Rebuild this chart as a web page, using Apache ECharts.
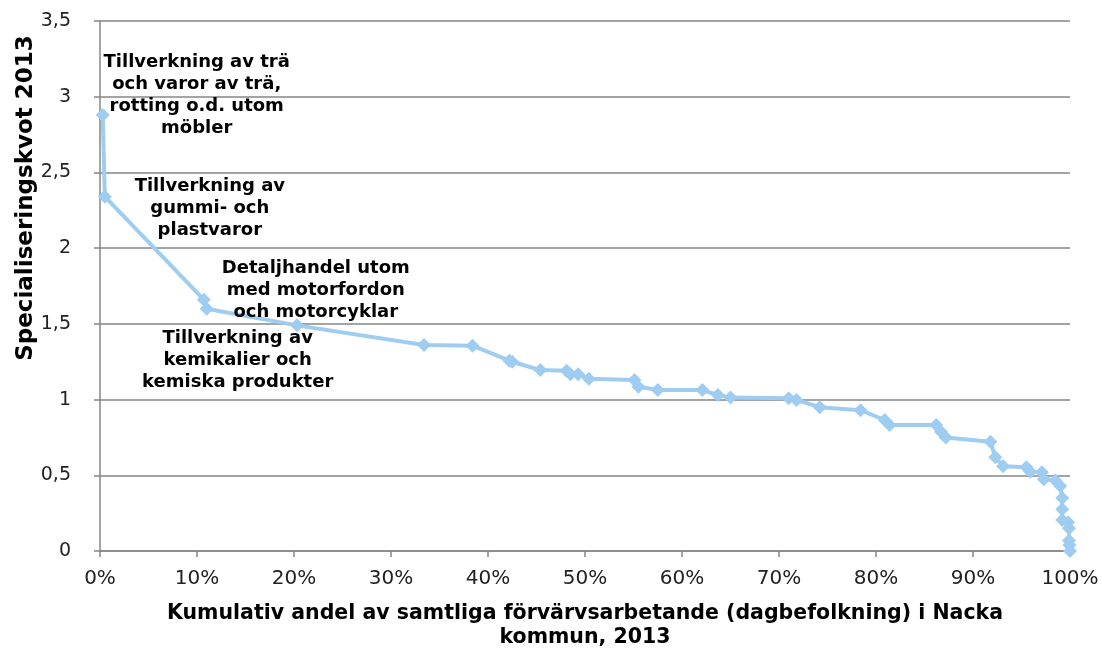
<!DOCTYPE html>
<html>
<head>
<meta charset="utf-8">
<script src="https://cdn.jsdelivr.net/npm/echarts@6/dist/echarts.min.js"></script>
<style>
  html, body { margin: 0; padding: 0; background: #fff; }
  #chart { width: 1102px; height: 650px; }
</style>
</head>
<body>
<div id="chart"></div>
<script>
// cumulative share of employed (%) and specialisation quotient
const cumShare = [0.28, 0.5, 10.7, 11.0, 20.3, 33.4, 38.4, 42.2, 42.5, 45.4, 48.1, 48.5, 49.3, 50.4,
  55.1, 55.5, 57.5, 62.1, 63.7, 65.0, 71.0, 71.8, 74.2, 78.4, 80.9, 81.4, 86.2, 86.7, 87.2,
  91.8, 92.3, 93.1, 95.5, 95.9, 97.1, 97.3, 98.5, 99.0, 99.2, 99.2, 99.2, 99.8, 99.9, 99.9, 99.95, 100];
const kvot = [2.88, 2.34, 1.66, 1.60, 1.49, 1.36, 1.356, 1.257, 1.25, 1.195, 1.19, 1.167, 1.167, 1.138,
  1.13, 1.085, 1.063, 1.063, 1.03, 1.013, 1.008, 0.997, 0.95, 0.93, 0.865, 0.832, 0.832, 0.788, 0.75,
  0.722, 0.619, 0.56, 0.553, 0.524, 0.52, 0.474, 0.465, 0.43, 0.35, 0.275, 0.205, 0.19, 0.15, 0.07, 0.04, 0.0];

// annotated branches: point index, text
const notes = [
  { i: 0, text: 'Tillverkning av trä\noch varor av trä,\nrotting o.d. utom\nmöbler', offset: [94, -20] },
  { i: 1, text: 'Tillverkning av\ngummi- och\nplastvaror', offset: [105, 12] },
  { i: 2, text: 'Detaljhandel utom\nmed motorfordon\noch motorcyklar', offset: [112, -9] },
  { i: 3, text: 'Tillverkning av\nkemikalier och\nkemiska produkter', offset: [31, 52] }
];

const font = '"DejaVu Sans", Verdana, sans-serif';
const axisGray = '#868686';

const data = cumShare.map((x, i) => {
  const item = { value: [x, kvot[i]] };
  const n = notes.find(d => d.i === i);
  if (n) {
    item.label = {
      show: true,
      position: 'inside',
      offset: n.offset,
      formatter: n.text,
      fontFamily: font,
      fontWeight: 'bold',
      fontSize: 18,
      lineHeight: 22,
      color: '#000',
      align: 'center',
      verticalAlign: 'middle'
    };
  }
  return item;
});

const chart = echarts.init(document.getElementById('chart'));
chart.setOption({
  animation: false,
  grid: { left: 100, right: 32, top: 21, bottom: 99, outerBoundsMode: 'none', containLabel: false },
  xAxis: {
    type: 'value',
    min: 0, max: 100, interval: 10,
    name: 'Kumulativ andel av samtliga förvärvsarbetande (dagbefolkning) i Nacka\nkommun, 2013',
    nameLocation: 'middle',
    nameGap: 51,
    nameMoveOverlap: false,
    nameTextStyle: { fontFamily: font, fontWeight: 'bold', fontSize: 20.5, lineHeight: 24, color: '#000', verticalAlign: 'top' },
    axisLine: { lineStyle: { color: axisGray, width: 1.5 } },
    axisTick: { show: true, length: 6, lineStyle: { color: axisGray, width: 1.5 } },
    axisLabel: { formatter: v => v + '%', fontFamily: font, fontSize: 20, color: '#222', margin: 18 },
    splitLine: { show: false }
  },
  yAxis: {
    type: 'value',
    min: 0, max: 3.5, interval: 0.5,
    name: 'Specialiseringskvot 2013',
    nameLocation: 'middle',
    nameGap: 62,
    nameRotate: 90,
    nameMoveOverlap: false,
    nameTextStyle: { fontFamily: font, fontWeight: 'bold', fontSize: 23, color: '#000', padding: [0, 0, 0, 176] },
    axisLine: { show: true, lineStyle: { color: axisGray, width: 1.5 } },
    axisTick: { show: true, length: 6, lineStyle: { color: axisGray, width: 1.5 } },
    axisLabel: { formatter: v => String(v).replace('.', ','), fontFamily: font, fontSize: 19, color: '#222', margin: 29 },
    splitLine: { lineStyle: { color: axisGray, width: 1.5 } }
  },
  series: [{
    type: 'line',
    data: data,
    symbol: 'diamond',
    symbolSize: 14,
    showAllSymbol: true,
    lineStyle: { color: '#9FCCF1', width: 4 },
    itemStyle: { color: '#9FCCF1' },
    z: 3
  }]
});
</script>
</body>
</html>
